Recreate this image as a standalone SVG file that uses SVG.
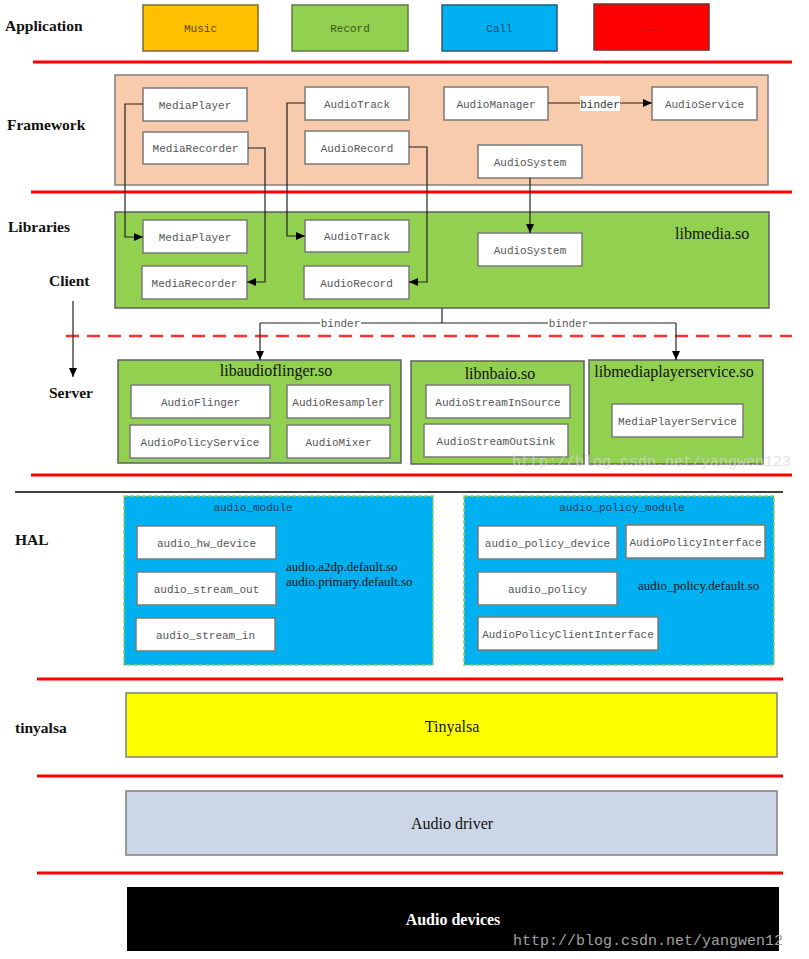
<svg xmlns="http://www.w3.org/2000/svg" width="809" height="959" viewBox="0 0 809 959">
<defs>
<marker id="arr" markerUnits="userSpaceOnUse" markerWidth="10" markerHeight="8" refX="9" refY="4" orient="auto">
<path d="M0,0 L9,4 L0,8 z" fill="#000"/>
</marker>
<style>
.lay{font-family:"Liberation Serif",serif;font-weight:bold;font-size:15.5px;fill:#111}
.mono{font-family:"Liberation Mono",monospace;font-size:11px;fill:#555;text-anchor:middle}
.app{font-family:"Liberation Mono",monospace;font-size:11px;text-anchor:middle}
.box{fill:#fff;stroke:#7a7a7a;stroke-width:1.5}
.lib{font-family:"Liberation Serif",serif;font-size:16px;fill:#111}
.so{font-family:"Liberation Serif",serif;font-size:13px;fill:#111}
.red{stroke:#ff0000;stroke-width:3;fill:none}
.con{stroke:#222;stroke-width:1.2;fill:none}
.grn{fill:#92D050;stroke:#606060;stroke-width:1.5}
.hal{fill:#00B0F0;stroke:#92D050;stroke-width:1.5;stroke-dasharray:4 2}
.big{font-family:"Liberation Serif",serif;font-size:16px;text-anchor:middle;fill:#111}
.wm{font-family:"Liberation Mono",monospace;font-size:15px}
.title{fill:#1f3a5a}
.bind{fill:#333}
</style>
</defs>
<rect width="809" height="959" fill="#fff"/>

<!-- layer labels -->
<g id="labels">
<text class="lay" x="5" y="31">Application</text>
<text class="lay" x="7" y="130">Framework</text>
<text class="lay" x="8" y="232">Libraries</text>
<text class="lay" x="49" y="286">Client</text>
<text class="lay" x="49" y="398">Server</text>
<text class="lay" x="15" y="545">HAL</text>
<text class="lay" x="15" y="733">tinyalsa</text>
</g>

<!-- separators -->
<g id="separators">
<line class="red" x1="33" y1="62" x2="792" y2="62"/>
<line class="red" x1="31" y1="192" x2="792" y2="192"/>
<line x1="66" y1="336" x2="792" y2="336" stroke="#ff3030" stroke-width="2.5" stroke-dasharray="13 8"/>
<line class="red" x1="31" y1="475" x2="792" y2="475"/>
<line x1="15" y1="492" x2="783" y2="492" stroke="#000" stroke-width="1.5"/>
<line class="red" x1="37" y1="679" x2="783" y2="679"/>
<line class="red" x1="37" y1="776" x2="783" y2="776"/>
<line class="red" x1="37" y1="873" x2="783" y2="873"/>
</g>

<!-- application -->
<g id="app-music"><rect x="143" y="5" width="115" height="46" fill="#FFC000" stroke="#7a6a30" stroke-width="1.5"/><text class="app" x="200.5" y="32" fill="#5a4a10">Music</text></g>
<g id="app-record"><rect x="292" y="5" width="116" height="46" fill="#92D050" stroke="#5f7a45" stroke-width="1.5"/><text class="app" x="350" y="32" fill="#3a5a25">Record</text></g>
<g id="app-call"><rect x="442" y="5" width="115" height="46" fill="#00B0F0" stroke="#2a5a7a" stroke-width="1.5"/><text class="app" x="499.5" y="32" fill="#1a4a6a">Call</text></g>
<g id="app-more"><rect x="594" y="4" width="115" height="46" fill="#FF0000" stroke="#7a3030" stroke-width="1.5"/><text class="app" x="651.5" y="31" fill="#5a1010">...</text></g>

<!-- framework -->
<g id="framework"><rect x="115" y="75" width="653" height="110" fill="#F8CBAD" stroke="#7f7f7f" stroke-width="1.5"/></g>
<g id="fw-mediaplayer"><rect class="box" x="143" y="88" width="104" height="33"/><text class="mono" x="195" y="108.5">MediaPlayer</text></g>
<g id="fw-mediarecorder"><rect class="box" x="143" y="132" width="105" height="32"/><text class="mono" x="195.5" y="152">MediaRecorder</text></g>
<g id="fw-audiotrack"><rect class="box" x="305" y="87" width="104" height="33"/><text class="mono" x="357" y="107.5">AudioTrack</text></g>
<g id="fw-audiorecord"><rect class="box" x="305" y="131" width="104" height="33"/><text class="mono" x="357" y="151.5">AudioRecord</text></g>
<g id="fw-audiomanager"><rect class="box" x="444" y="87" width="104" height="33"/><text class="mono" x="496" y="107.5">AudioManager</text></g>
<g id="fw-audioservice"><rect class="box" x="652" y="87" width="105" height="33"/><text class="mono" x="704.5" y="107.5">AudioService</text></g>
<g id="fw-audiosystem"><rect class="box" x="478" y="145" width="104" height="33"/><text class="mono" x="530" y="165.5">AudioSystem</text></g>

<!-- libraries -->
<g id="libmedia"><rect class="grn" x="115" y="212" width="654" height="96"/><text class="lib" x="675" y="239">libmedia.so</text></g>
<g id="lib-mediaplayer"><rect class="box" x="143" y="220" width="104" height="33"/><text class="mono" x="195" y="240.5">MediaPlayer</text></g>
<g id="lib-mediarecorder"><rect class="box" x="142" y="266" width="105" height="33"/><text class="mono" x="194.5" y="286.5">MediaRecorder</text></g>
<g id="lib-audiotrack"><rect class="box" x="305" y="220" width="104" height="32"/><text class="mono" x="357" y="240">AudioTrack</text></g>
<g id="lib-audiorecord"><rect class="box" x="304" y="266" width="105" height="33"/><text class="mono" x="356.5" y="286.5">AudioRecord</text></g>
<g id="lib-audiosystem"><rect class="box" x="478" y="233" width="104" height="33"/><text class="mono" x="530" y="253.5">AudioSystem</text></g>

<!-- server -->
<g id="libaudioflinger"><rect class="grn" x="118" y="360" width="283" height="103"/><text class="lib" x="276" y="376" text-anchor="middle">libaudioflinger.so</text></g>
<g id="srv-audioflinger"><rect class="box" x="131" y="385" width="139" height="33"/><text class="mono" x="200.5" y="405.5">AudioFlinger</text></g>
<g id="srv-audioresampler"><rect class="box" x="287" y="385" width="103" height="33"/><text class="mono" x="338.5" y="405.5">AudioResampler</text></g>
<g id="srv-audiopolicyservice"><rect class="box" x="130" y="425" width="140" height="33"/><text class="mono" x="200" y="445.5">AudioPolicyService</text></g>
<g id="srv-audiomixer"><rect class="box" x="287" y="425" width="103" height="33"/><text class="mono" x="338.5" y="445.5">AudioMixer</text></g>

<g id="libnbaio"><rect class="grn" x="411" y="361" width="173" height="103"/><text class="lib" x="500" y="379" text-anchor="middle">libnbaio.so</text></g>
<g id="srv-instream"><rect class="box" x="426" y="385" width="144" height="33"/><text class="mono" x="498" y="405.5">AudioStreamInSource</text></g>
<g id="srv-outsink"><rect class="box" x="424" y="424" width="144" height="33"/><text class="mono" x="496" y="444.5">AudioStreamOutSink</text></g>

<g id="libmediaplayerservice"><rect class="grn" x="589" y="360" width="174" height="104"/><text class="lib" x="674" y="377" text-anchor="middle">libmediaplayerservice.so</text></g>
<g id="srv-mediaplayerservice"><rect class="box" x="612" y="404" width="131" height="33"/><text class="mono" x="677.5" y="424.5">MediaPlayerService</text></g>

<text class="wm" x="512" y="466" fill="#d8d8d8" opacity="0.7">http://blog.csdn.net/yangwen123</text>

<!-- HAL -->
<g id="audio-module"><rect class="hal" x="124" y="496" width="309" height="169"/><text class="mono title" x="253" y="511">audio_module</text>
<text class="so" x="286" y="571">audio.a2dp.default.so</text><text class="so" x="286" y="586">audio.primary.default.so</text></g>
<g id="hal-hwdevice"><rect class="box" x="137" y="526" width="139" height="33"/><text class="mono" x="206.5" y="546.5">audio_hw_device</text></g>
<g id="hal-streamout"><rect class="box" x="137" y="572" width="139" height="33"/><text class="mono" x="206.5" y="592.5">audio_stream_out</text></g>
<g id="hal-streamin"><rect class="box" x="136" y="618" width="139" height="33"/><text class="mono" x="205.5" y="638.5">audio_stream_in</text></g>

<g id="audio-policy-module"><rect class="hal" x="464" y="496" width="310" height="169"/><text class="mono title" x="622" y="511">audio_policy_module</text>
<text class="so" x="638" y="590">audio_policy.default.so</text></g>
<g id="hal-policydevice"><rect class="box" x="478" y="526" width="139" height="33"/><text class="mono" x="547.5" y="546.5">audio_policy_device</text></g>
<g id="hal-policyinterface"><rect class="box" x="626" y="525" width="139" height="33"/><text class="mono" x="695.5" y="545.5">AudioPolicyInterface</text></g>
<g id="hal-policy"><rect class="box" x="478" y="572" width="139" height="33"/><text class="mono" x="547.5" y="592.5">audio_policy</text></g>
<g id="hal-policyclient"><rect class="box" x="478" y="617" width="180" height="33"/><text class="mono" x="568" y="637.5">AudioPolicyClientInterface</text></g>

<!-- lower layers -->
<g id="tinyalsa"><rect x="126" y="693" width="651" height="64" fill="#FFFF00" stroke="#7f7f7f" stroke-width="1.5"/><text class="big" x="452" y="732" font-size="17">Tinyalsa</text></g>
<g id="audio-driver"><rect x="126" y="791" width="651" height="64" fill="#CBD7E6" stroke="#7f7f7f" stroke-width="1.5"/><text class="big" x="452" y="829">Audio driver</text></g>
<g id="audio-devices"><rect x="127" y="887" width="652" height="64" fill="#000"/><text class="big" x="453" y="925" font-weight="bold" style="fill:#fff">Audio devices</text></g>
<text class="wm" x="513" y="945" fill="#a0a0a0">http://blog.csdn.net/yangwen12</text>

<!-- connectors -->
<g id="connectors">
<path class="con" d="M143,104 H125 V237 H143" marker-end="url(#arr)"/>
<path class="con" d="M248,148 H265 V282 H247" marker-end="url(#arr)"/>
<path class="con" d="M305,103 H287 V236 H305" marker-end="url(#arr)"/>
<path class="con" d="M409,147 H427 V282 H409" marker-end="url(#arr)"/>
<path class="con" d="M530,178 V233" marker-end="url(#arr)"/>
<path class="con" d="M548,103 H652" marker-end="url(#arr)"/>
<rect x="580" y="96" width="40" height="15" fill="#fff"/>
<text class="mono bind" x="600" y="107.5">binder</text>
<path class="con" d="M73,301 V377" marker-end="url(#arr)"/>
<path class="con" d="M442,308 V323"/>
<path class="con" d="M260,323 H676"/>
<path class="con" d="M260,323 V360" marker-end="url(#arr)"/>
<path class="con" d="M676,323 V360" marker-end="url(#arr)"/>
<rect x="320" y="317" width="41" height="12" fill="#fff"/>
<text class="mono" x="340.5" y="327">binder</text>
<rect x="548" y="317" width="41" height="12" fill="#fff"/>
<text class="mono" x="568.5" y="327">binder</text>
</g>
</svg>
